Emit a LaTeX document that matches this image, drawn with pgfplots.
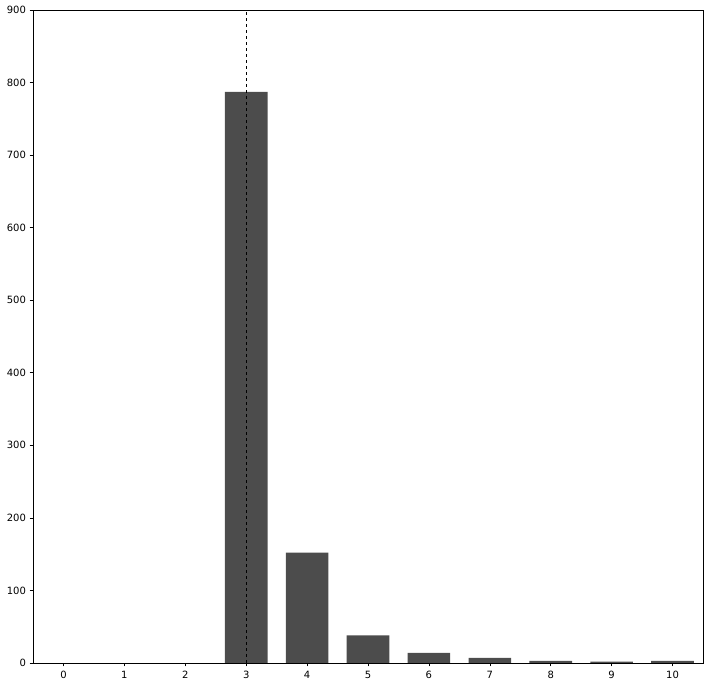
\documentclass[border=0pt]{standalone}
\usepackage{fontspec}
\setmainfont{DejaVu Sans}
\usepackage{pgfplots}
\pgfplotsset{compat=1.18}
\definecolor{BarGray}{RGB}{76,76,76}

\begin{document}
\begin{tikzpicture}
\begin{axis}[
    scale only axis,
    width=670pt, height=653pt,
    xmin=-0.5, xmax=10.5,
    ymin=0, ymax=900,
    xtick={0,1,...,10},
    ytick={0,100,...,900},
    tick align=outside,
    tick pos=left,
    major tick length=3.5pt,
    tick style={black, line width=0.6pt},
    axis line style={line width=0.6pt},
    /pgf/number format/assume math mode=true,
    ticklabel style={font=\fontsize{10}{12}\selectfont},
    xticklabel style={yshift=-1pt},
    ybar, bar width=0.7, bar shift=0pt,
    axis on top,
]
% categories 0, 1 and 2 have zero count
\addplot[fill=BarGray, draw=none] coordinates {
    (3,787) (4,152) (5,38) (6,14) (7,7) (8,3) (9,2) (10,3)
};
\addplot[black, dashed, line width=0.6pt, sharp plot] coordinates {(3,0) (3,900)};
\end{axis}
\pgfresetboundingbox
\useasboundingbox (current axis.south west) ++(-33pt,-24pt) rectangle ([shift={(6pt,10pt)}]current axis.north east);
\end{tikzpicture}
\end{document}
